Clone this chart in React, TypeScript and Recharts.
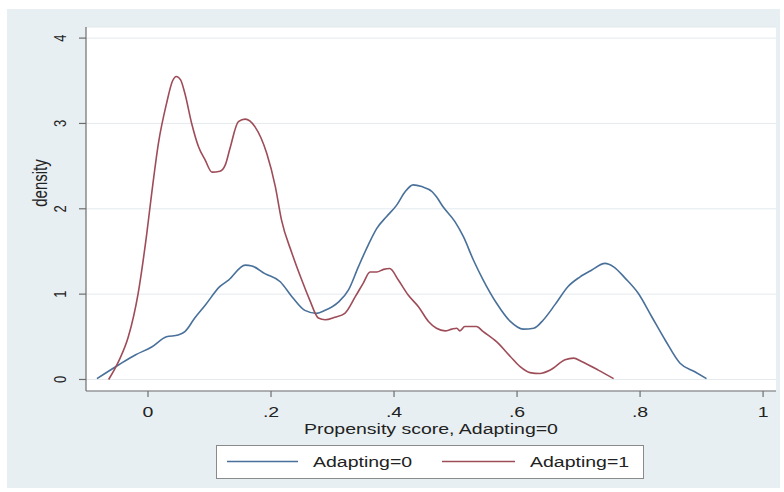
import React from 'react';
import { LineChart, Line, XAxis, YAxis, CartesianGrid } from 'recharts';

// ---- data ----
const seriesNames = ['Adapting=0', 'Adapting=1'];

const adapting0X = [
  -0.083, -0.048, -0.02, 0.006, 0.03, 0.049, 0.06, 0.076, 0.093, 0.117, 0.131, 0.158, 0.169,
  0.19, 0.215, 0.234, 0.255, 0.274, 0.288, 0.31, 0.326, 0.342, 0.358, 0.372, 0.388, 0.404,
  0.418, 0.431, 0.445, 0.462, 0.469, 0.48, 0.499, 0.513, 0.529, 0.545, 0.567, 0.589, 0.61,
  0.627, 0.643, 0.662, 0.683, 0.702, 0.721, 0.743, 0.757, 0.776, 0.797, 0.819, 0.841, 0.865,
  0.889, 0.908,
];
const adapting0Y = [
  0.01, 0.17, 0.29, 0.38, 0.5, 0.52, 0.56, 0.72, 0.87, 1.09, 1.165, 1.34, 1.33,
  1.24, 1.145, 0.97, 0.81, 0.775, 0.81, 0.91, 1.05, 1.32, 1.575, 1.77, 1.91, 2.04,
  2.2, 2.28, 2.26, 2.2, 2.14, 2.02, 1.85, 1.67, 1.4, 1.165, 0.89, 0.68, 0.59,
  0.6, 0.7, 0.88, 1.09, 1.2, 1.28, 1.36, 1.32, 1.185, 1.01, 0.735, 0.46, 0.19,
  0.09, 0.01,
];

const adapting1X = [
  -0.064, -0.048, -0.032, -0.016, -0.002, 0.006, 0.017, 0.03, 0.04, 0.046, 0.053, 0.06, 0.071,
  0.082, 0.093, 0.104, 0.117, 0.126, 0.133, 0.147, 0.158, 0.174, 0.193, 0.207, 0.217, 0.234,
  0.25, 0.263, 0.277, 0.288, 0.304, 0.32, 0.337, 0.35, 0.361, 0.372, 0.383, 0.393, 0.407,
  0.423, 0.44, 0.456, 0.469, 0.483, 0.494, 0.502, 0.507, 0.515, 0.534, 0.545, 0.567, 0.589,
  0.605, 0.621, 0.637, 0.654, 0.678, 0.692, 0.705, 0.732, 0.757,
];
const adapting1Y = [
  0.0, 0.21, 0.5, 1.01, 1.71, 2.18, 2.77, 3.23, 3.5, 3.55, 3.51, 3.35, 3.0,
  2.73, 2.57, 2.43, 2.44, 2.52, 2.7, 3.02, 3.05, 2.96, 2.65, 2.26, 1.87, 1.48,
  1.165, 0.93, 0.72, 0.7, 0.73, 0.775, 0.97, 1.13, 1.26, 1.26, 1.29, 1.3, 1.165,
  0.99, 0.85, 0.68, 0.6, 0.57, 0.59, 0.6, 0.57, 0.62, 0.62, 0.56, 0.44, 0.27,
  0.15, 0.08, 0.07, 0.11, 0.23, 0.25, 0.21, 0.11, 0.01,
];

const xTicks = [0, 0.2, 0.4, 0.6, 0.8, 1];
const xTickLabels = ['0', '.2', '.4', '.6', '.8', '1'];
const yTicks = [0, 1, 2, 3, 4];
const yTickLabels = ['0', '1', '2', '3', '4'];
const xTitle = 'Propensity score, Adapting=0';
const yTitle = 'density';

// ---- styles ----
const colors = ['#48709a', '#9e4c58'];
const FONT = '"Liberation Sans", Arial, sans-serif';
const TEXT = '#222';
const SX = 1.3;

const toRows = (xs: number[], ys: number[]) => xs.map((x, i) => ({ x, y: ys[i] }));
const data0 = toRows(adapting0X, adapting0Y);
const data1 = toRows(adapting1X, adapting1Y);

const XTick = (props: any) => {
  const { x, payload } = props;
  const idx = xTicks.indexOf(payload.value);
  return (
    <text
      transform={`translate(${x},417) scale(${SX},1)`}
      textAnchor="middle"
      fontFamily={FONT}
      fontSize={15}
      fill={TEXT}
    >
      {idx >= 0 ? xTickLabels[idx] : payload.value}
    </text>
  );
};

const YTick = (props: any) => {
  const { y, payload } = props;
  const idx = yTicks.indexOf(payload.value);
  return (
    <text
      transform={`translate(66,${y}) scale(${SX},1) rotate(-90)`}
      textAnchor="middle"
      fontFamily={FONT}
      fontSize={13}
      fill={TEXT}
    >
      {idx >= 0 ? yTickLabels[idx] : payload.value}
    </text>
  );
};

export default function App() {
  return (
    <div style={{ position: 'absolute', left: 0, top: 0, width: 784, height: 492, background: '#fff', overflow: 'hidden' }}>
      <div style={{ position: 'absolute', left: 7, top: 9, width: 773, height: 479, background: '#E8EFF2' }} />
      <div style={{ position: 'absolute', left: 0, top: 0 }}>
        <LineChart width={784} height={492} margin={{ top: 27, right: 8, bottom: 0, left: 0 }}>
          <CartesianGrid vertical={false} fill="#ffffff" stroke="#E4EAED" strokeWidth={1} />
          <XAxis
            type="number"
            dataKey="x"
            domain={[-0.1008, 1.021]}
            allowDataOverflow
            ticks={xTicks}
            interval={0}
            height={101}
            tickSize={6}
            tick={<XTick />}
            axisLine={{ stroke: '#6e6e6e', strokeWidth: 1.2 }}
            tickLine={{ stroke: '#6e6e6e', strokeWidth: 1.2 }}
          />
          <YAxis
            type="number"
            domain={[-0.135, 4.13]}
            allowDataOverflow
            ticks={yTicks}
            interval={0}
            width={86}
            tickSize={7}
            tick={<YTick />}
            axisLine={{ stroke: '#6e6e6e', strokeWidth: 1.2 }}
            tickLine={{ stroke: '#6e6e6e', strokeWidth: 1.2 }}
          />
          <Line
            data={data0}
            dataKey="y"
            name={seriesNames[0]}
            type="monotone"
            stroke={colors[0]}
            strokeWidth={1.6}
            dot={false}
            isAnimationActive={false}
          />
          <Line
            data={data1}
            dataKey="y"
            name={seriesNames[1]}
            type="monotone"
            stroke={colors[1]}
            strokeWidth={1.6}
            dot={false}
            isAnimationActive={false}
          />
        </LineChart>
      </div>
      <svg width={784} height={492} style={{ position: 'absolute', left: 0, top: 0, pointerEvents: 'none' }}>
        <text
          transform={`translate(47,183) scale(${SX},1) rotate(-90)`}
          textAnchor="middle"
          fontFamily={FONT}
          fontSize={15}
          fill={TEXT}
        >
          {yTitle}
        </text>
        <text
          transform={`translate(431,434) scale(${SX},1)`}
          textAnchor="middle"
          fontFamily={FONT}
          fontSize={15}
          fill={TEXT}
        >
          {xTitle}
        </text>
        <rect x={216.5} y={445.5} width={427} height={33} fill="#fff" stroke="#8a8a8a" strokeWidth={1} />
        <line x1={227} x2={298} y1={461.5} y2={461.5} stroke={colors[0]} strokeWidth={1.6} />
        <text transform={`translate(313,467) scale(${SX},1)`} fontFamily={FONT} fontSize={15} fill={TEXT}>
          {seriesNames[0]}
        </text>
        <line x1={442} x2={515} y1={461.5} y2={461.5} stroke={colors[1]} strokeWidth={1.6} />
        <text transform={`translate(530,467) scale(${SX},1)`} fontFamily={FONT} fontSize={15} fill={TEXT}>
          {seriesNames[1]}
        </text>
      </svg>
    </div>
  );
}
